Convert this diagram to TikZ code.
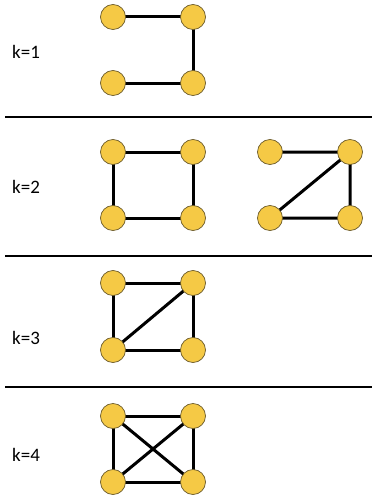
\documentclass[tikz,border=0pt]{standalone}
\usepackage{fontspec}
\setmainfont{Carlito}
\definecolor{vfill}{HTML}{F5C945}
\definecolor{vdraw}{HTML}{6B5A2A}
\begin{document}
\begin{tikzpicture}[x=1pt,y=-1pt,
  vert/.style={circle,fill=vfill,draw=vdraw,line width=0.7pt,minimum size=25pt,inner sep=0pt},
  edge/.style={line width=3pt,black},
  divider/.style={line width=1.8pt,black},
  klabel/.style={anchor=west,font=\fontsize{19}{21}\selectfont,inner sep=0pt}]
\useasboundingbox (0,0) rectangle (372,495);
% dividers
\coordinate (d1a) at (5,117); \coordinate (d1b) at (372,117);
\coordinate (d2a) at (5,256); \coordinate (d2b) at (372,256);
\coordinate (d3a) at (5,387); \coordinate (d3b) at (372,387);
\draw[divider] (d1a) -- (d1b);
\draw[divider] (d2a) -- (d2b);
\draw[divider] (d3a) -- (d3b);
% labels
\node[klabel] (k1) at (12,52) {k=1};
\node[klabel] (k2) at (12,187) {k=2};
\node[klabel] (k3) at (12,338) {k=3};
\node[klabel] (k4) at (12,455) {k=4};
% k=1
\coordinate (a1) at (113,17); \coordinate (b1) at (193,17);
\coordinate (c1) at (113,83); \coordinate (e1) at (193,83);
\draw[edge] (a1) -- (b1) -- (e1) -- (c1);
\node[vert] (A1) at (a1) {}; \node[vert] (B1) at (b1) {};
\node[vert] (C1) at (c1) {}; \node[vert] (D1) at (e1) {};
% k=2 left
\coordinate (a2) at (113,152); \coordinate (b2) at (193,152);
\coordinate (c2) at (113,218); \coordinate (e2) at (193,218);
\draw[edge] (a2) -- (b2) -- (e2) -- (c2) -- cycle;
\node[vert] (A2) at (a2) {}; \node[vert] (B2) at (b2) {};
\node[vert] (C2) at (c2) {}; \node[vert] (D2) at (e2) {};
% k=2 right
\coordinate (a2r) at (270,152); \coordinate (b2r) at (350,152);
\coordinate (c2r) at (270,218); \coordinate (e2r) at (350,218);
\draw[edge] (a2r) -- (b2r) -- (e2r) -- (c2r) -- (b2r);
\node[vert] (A2r) at (a2r) {}; \node[vert] (B2r) at (b2r) {};
\node[vert] (C2r) at (c2r) {}; \node[vert] (D2r) at (e2r) {};
% k=3
\coordinate (a3) at (113,283); \coordinate (b3) at (193,283);
\coordinate (c3) at (113,350); \coordinate (e3) at (193,350);
\draw[edge] (a3) -- (b3) -- (e3) -- (c3) -- cycle;
\draw[edge] (c3) -- (b3);
\node[vert] (A3) at (a3) {}; \node[vert] (B3) at (b3) {};
\node[vert] (C3) at (c3) {}; \node[vert] (D3) at (e3) {};
% k=4
\coordinate (a4) at (113,416); \coordinate (b4) at (193,416);
\coordinate (c4) at (113,482); \coordinate (e4) at (193,482);
\draw[edge] (a4) -- (b4) -- (e4) -- (c4) -- cycle;
\draw[edge] (c4) -- (b4);
\draw[edge] (a4) -- (e4);
\node[vert] (A4) at (a4) {}; \node[vert] (B4) at (b4) {};
\node[vert] (C4) at (c4) {}; \node[vert] (D4) at (e4) {};
\end{tikzpicture}
\end{document}
